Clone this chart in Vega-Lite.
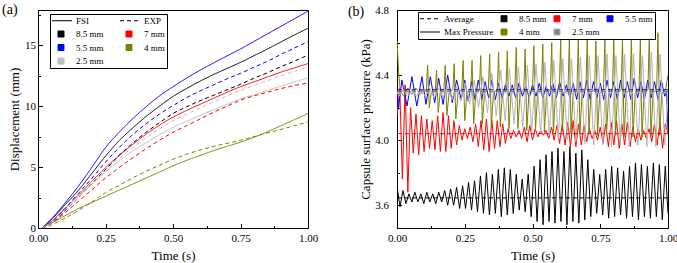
{
  "$schema": "https://vega.github.io/schema/vega-lite/v6.json",
  "background": "white",
  "autosize": {"type": "pad"},
  "padding": {"left": 1, "top": 2, "right": 3, "bottom": 0},
  "spacing": 28,
  "config": {
    "font": "Liberation Serif, Times New Roman, serif",
    "view": {"stroke": "#000", "strokeWidth": 1},
    "axis": {
      "grid": false,
      "domainColor": "#000",
      "tickColor": "#000",
      "labelColor": "#000",
      "titleColor": "#000",
      "labelFont": "Liberation Serif, Times New Roman, serif",
      "titleFont": "Liberation Serif, Times New Roman, serif",
      "labelFontSize": 11,
      "titleFontSize": 13,
      "titleFontWeight": "normal",
      "labelFlush": false,
      "labelOverlap": false
    },
    "legend": {
      "labelFont": "Liberation Serif, Times New Roman, serif",
      "labelFontSize": 9,
      "labelColor": "#000"
    }
  },
  "resolve": {
    "scale": {"color": "independent", "strokeDash": "independent", "x": "independent", "y": "independent"},
    "legend": {"color": "independent"}
  },
  "hconcat": [
    {
      "width": 270,
      "height": 218,
      "encoding": {
        "x": {
          "field": "t", "type": "quantitative",
          "scale": {"domain": [0, 1], "nice": false},
          "axis": {
            "title": "Time (s)",
            "values": [0, 0.125, 0.25, 0.375, 0.5, 0.625, 0.75, 0.875, 1],
            "labelExpr": "abs(datum.value*4-round(datum.value*4))>0.01 ? '' : format(datum.value,'.2f')",
            "tickSize": {"condition": {"test": "abs(datum.value*4-round(datum.value*4))>0.01", "value": -2.5}, "value": -4.5},
            "labelPadding": 9,
            "titlePadding": 4
          }
        },
        "y": {
          "field": "v", "type": "quantitative",
          "scale": {"domain": [0, 17.9], "nice": false},
          "axis": {
            "title": "Displacement (mm)",
            "values": [0, 2.5, 5, 7.5, 10, 12.5, 15, 17.5],
            "labelExpr": "abs(datum.value/5-round(datum.value/5))>0.01 ? '' : format(datum.value,'d')",
            "tickSize": {"condition": {"test": "abs(datum.value/5-round(datum.value/5))>0.01", "value": -2.5}, "value": -4.5},
            "labelPadding": 7,
            "titlePadding": 3
          }
        }
      },
      "layer": [
        {
          "data": {"values": [
            {"d":"8.5 mm","k":"FSI","t":0.015,"v":0},{"d":"8.5 mm","k":"FSI","t":0.05,"v":0.7},{"d":"8.5 mm","k":"FSI","t":0.1,"v":1.9},{"d":"8.5 mm","k":"FSI","t":0.15,"v":3.1},{"d":"8.5 mm","k":"FSI","t":0.2,"v":4.5},{"d":"8.5 mm","k":"FSI","t":0.25,"v":5.9},{"d":"8.5 mm","k":"FSI","t":0.3,"v":7.15},{"d":"8.5 mm","k":"FSI","t":0.35,"v":8.2},{"d":"8.5 mm","k":"FSI","t":0.4,"v":9.15},{"d":"8.5 mm","k":"FSI","t":0.45,"v":10.0},{"d":"8.5 mm","k":"FSI","t":0.5,"v":10.8},{"d":"8.5 mm","k":"FSI","t":0.55,"v":11.45},{"d":"8.5 mm","k":"FSI","t":0.6,"v":12.05},{"d":"8.5 mm","k":"FSI","t":0.65,"v":12.6},{"d":"8.5 mm","k":"FSI","t":0.7,"v":13.1},{"d":"8.5 mm","k":"FSI","t":0.75,"v":13.6},{"d":"8.5 mm","k":"FSI","t":0.8,"v":14.15},{"d":"8.5 mm","k":"FSI","t":0.85,"v":14.7},{"d":"8.5 mm","k":"FSI","t":0.9,"v":15.28},{"d":"8.5 mm","k":"FSI","t":0.95,"v":15.85},{"d":"8.5 mm","k":"FSI","t":1.0,"v":16.4},
            {"d":"7 mm","k":"FSI","t":0.015,"v":0},{"d":"7 mm","k":"FSI","t":0.05,"v":0.55},{"d":"7 mm","k":"FSI","t":0.1,"v":1.6},{"d":"7 mm","k":"FSI","t":0.15,"v":2.7},{"d":"7 mm","k":"FSI","t":0.2,"v":3.85},{"d":"7 mm","k":"FSI","t":0.25,"v":4.95},{"d":"7 mm","k":"FSI","t":0.3,"v":5.95},{"d":"7 mm","k":"FSI","t":0.35,"v":6.85},{"d":"7 mm","k":"FSI","t":0.4,"v":7.7},{"d":"7 mm","k":"FSI","t":0.45,"v":8.45},{"d":"7 mm","k":"FSI","t":0.5,"v":9.1},{"d":"7 mm","k":"FSI","t":0.55,"v":9.65},{"d":"7 mm","k":"FSI","t":0.6,"v":10.15},{"d":"7 mm","k":"FSI","t":0.65,"v":10.65},{"d":"7 mm","k":"FSI","t":0.7,"v":11.15},{"d":"7 mm","k":"FSI","t":0.75,"v":11.6},{"d":"7 mm","k":"FSI","t":0.8,"v":12.0},{"d":"7 mm","k":"FSI","t":0.85,"v":12.4},{"d":"7 mm","k":"FSI","t":0.9,"v":12.8},{"d":"7 mm","k":"FSI","t":0.95,"v":13.15},{"d":"7 mm","k":"FSI","t":1.0,"v":13.5},
            {"d":"5.5 mm","k":"FSI","t":0.015,"v":0},{"d":"5.5 mm","k":"FSI","t":0.05,"v":0.75},{"d":"5.5 mm","k":"FSI","t":0.1,"v":2.05},{"d":"5.5 mm","k":"FSI","t":0.15,"v":3.45},{"d":"5.5 mm","k":"FSI","t":0.2,"v":5.0},{"d":"5.5 mm","k":"FSI","t":0.25,"v":6.6},{"d":"5.5 mm","k":"FSI","t":0.3,"v":7.85},{"d":"5.5 mm","k":"FSI","t":0.35,"v":8.95},{"d":"5.5 mm","k":"FSI","t":0.4,"v":9.95},{"d":"5.5 mm","k":"FSI","t":0.45,"v":10.85},{"d":"5.5 mm","k":"FSI","t":0.5,"v":11.6},{"d":"5.5 mm","k":"FSI","t":0.55,"v":12.3},{"d":"5.5 mm","k":"FSI","t":0.6,"v":12.95},{"d":"5.5 mm","k":"FSI","t":0.65,"v":13.55},{"d":"5.5 mm","k":"FSI","t":0.7,"v":14.13},{"d":"5.5 mm","k":"FSI","t":0.75,"v":14.7},{"d":"5.5 mm","k":"FSI","t":0.8,"v":15.32},{"d":"5.5 mm","k":"FSI","t":0.85,"v":15.94},{"d":"5.5 mm","k":"FSI","t":0.9,"v":16.56},{"d":"5.5 mm","k":"FSI","t":0.95,"v":17.18},{"d":"5.5 mm","k":"FSI","t":1.0,"v":17.8},
            {"d":"4 mm","k":"FSI","t":0.015,"v":0},{"d":"4 mm","k":"FSI","t":0.05,"v":0.4},{"d":"4 mm","k":"FSI","t":0.1,"v":1.0},{"d":"4 mm","k":"FSI","t":0.15,"v":1.6},{"d":"4 mm","k":"FSI","t":0.2,"v":2.1},{"d":"4 mm","k":"FSI","t":0.25,"v":2.6},{"d":"4 mm","k":"FSI","t":0.3,"v":3.1},{"d":"4 mm","k":"FSI","t":0.35,"v":3.6},{"d":"4 mm","k":"FSI","t":0.4,"v":4.1},{"d":"4 mm","k":"FSI","t":0.45,"v":4.6},{"d":"4 mm","k":"FSI","t":0.5,"v":5.1},{"d":"4 mm","k":"FSI","t":0.55,"v":5.55},{"d":"4 mm","k":"FSI","t":0.6,"v":5.95},{"d":"4 mm","k":"FSI","t":0.65,"v":6.35},{"d":"4 mm","k":"FSI","t":0.7,"v":6.7},{"d":"4 mm","k":"FSI","t":0.75,"v":7.05},{"d":"4 mm","k":"FSI","t":0.8,"v":7.45},{"d":"4 mm","k":"FSI","t":0.85,"v":7.9},{"d":"4 mm","k":"FSI","t":0.9,"v":8.4},{"d":"4 mm","k":"FSI","t":0.95,"v":8.9},{"d":"4 mm","k":"FSI","t":1.0,"v":9.4},
            {"d":"2.5 mm","k":"FSI","t":0.015,"v":0},{"d":"2.5 mm","k":"FSI","t":0.05,"v":0.5},{"d":"2.5 mm","k":"FSI","t":0.1,"v":1.6},{"d":"2.5 mm","k":"FSI","t":0.15,"v":2.6},{"d":"2.5 mm","k":"FSI","t":0.2,"v":3.6},{"d":"2.5 mm","k":"FSI","t":0.25,"v":4.6},{"d":"2.5 mm","k":"FSI","t":0.3,"v":5.5},{"d":"2.5 mm","k":"FSI","t":0.35,"v":6.3},{"d":"2.5 mm","k":"FSI","t":0.4,"v":7.0},{"d":"2.5 mm","k":"FSI","t":0.45,"v":7.65},{"d":"2.5 mm","k":"FSI","t":0.5,"v":8.25},{"d":"2.5 mm","k":"FSI","t":0.55,"v":8.75},{"d":"2.5 mm","k":"FSI","t":0.6,"v":9.25},{"d":"2.5 mm","k":"FSI","t":0.65,"v":9.7},{"d":"2.5 mm","k":"FSI","t":0.7,"v":10.15},{"d":"2.5 mm","k":"FSI","t":0.75,"v":10.6},{"d":"2.5 mm","k":"FSI","t":0.8,"v":10.95},{"d":"2.5 mm","k":"FSI","t":0.85,"v":11.3},{"d":"2.5 mm","k":"FSI","t":0.9,"v":11.65},{"d":"2.5 mm","k":"FSI","t":0.95,"v":12.0},{"d":"2.5 mm","k":"FSI","t":1.0,"v":12.3},
            {"d":"8.5 mm","k":"EXP","t":0.015,"v":0},{"d":"8.5 mm","k":"EXP","t":0.05,"v":0.45},{"d":"8.5 mm","k":"EXP","t":0.1,"v":1.4},{"d":"8.5 mm","k":"EXP","t":0.15,"v":2.5},{"d":"8.5 mm","k":"EXP","t":0.2,"v":3.65},{"d":"8.5 mm","k":"EXP","t":0.25,"v":4.8},{"d":"8.5 mm","k":"EXP","t":0.3,"v":5.95},{"d":"8.5 mm","k":"EXP","t":0.35,"v":6.95},{"d":"8.5 mm","k":"EXP","t":0.4,"v":7.85},{"d":"8.5 mm","k":"EXP","t":0.45,"v":8.65},{"d":"8.5 mm","k":"EXP","t":0.5,"v":9.4},{"d":"8.5 mm","k":"EXP","t":0.55,"v":9.95},{"d":"8.5 mm","k":"EXP","t":0.6,"v":10.45},{"d":"8.5 mm","k":"EXP","t":0.65,"v":10.9},{"d":"8.5 mm","k":"EXP","t":0.7,"v":11.35},{"d":"8.5 mm","k":"EXP","t":0.75,"v":11.8},{"d":"8.5 mm","k":"EXP","t":0.8,"v":12.3},{"d":"8.5 mm","k":"EXP","t":0.85,"v":12.75},{"d":"8.5 mm","k":"EXP","t":0.9,"v":13.25},{"d":"8.5 mm","k":"EXP","t":0.95,"v":13.7},{"d":"8.5 mm","k":"EXP","t":1.0,"v":14.2},
            {"d":"7 mm","k":"EXP","t":0.015,"v":0},{"d":"7 mm","k":"EXP","t":0.05,"v":0.4},{"d":"7 mm","k":"EXP","t":0.1,"v":1.25},{"d":"7 mm","k":"EXP","t":0.15,"v":2.2},{"d":"7 mm","k":"EXP","t":0.2,"v":3.15},{"d":"7 mm","k":"EXP","t":0.25,"v":4.1},{"d":"7 mm","k":"EXP","t":0.3,"v":4.95},{"d":"7 mm","k":"EXP","t":0.35,"v":5.75},{"d":"7 mm","k":"EXP","t":0.4,"v":6.5},{"d":"7 mm","k":"EXP","t":0.45,"v":7.2},{"d":"7 mm","k":"EXP","t":0.5,"v":7.85},{"d":"7 mm","k":"EXP","t":0.55,"v":8.4},{"d":"7 mm","k":"EXP","t":0.6,"v":8.95},{"d":"7 mm","k":"EXP","t":0.65,"v":9.5},{"d":"7 mm","k":"EXP","t":0.7,"v":10.0},{"d":"7 mm","k":"EXP","t":0.75,"v":10.5},{"d":"7 mm","k":"EXP","t":0.8,"v":10.85},{"d":"7 mm","k":"EXP","t":0.85,"v":11.15},{"d":"7 mm","k":"EXP","t":0.9,"v":11.45},{"d":"7 mm","k":"EXP","t":0.95,"v":11.7},{"d":"7 mm","k":"EXP","t":1.0,"v":11.9},
            {"d":"5.5 mm","k":"EXP","t":0.015,"v":0},{"d":"5.5 mm","k":"EXP","t":0.05,"v":0.5},{"d":"5.5 mm","k":"EXP","t":0.1,"v":1.6},{"d":"5.5 mm","k":"EXP","t":0.15,"v":2.85},{"d":"5.5 mm","k":"EXP","t":0.2,"v":4.1},{"d":"5.5 mm","k":"EXP","t":0.25,"v":5.4},{"d":"5.5 mm","k":"EXP","t":0.3,"v":6.6},{"d":"5.5 mm","k":"EXP","t":0.35,"v":7.65},{"d":"5.5 mm","k":"EXP","t":0.4,"v":8.55},{"d":"5.5 mm","k":"EXP","t":0.45,"v":9.35},{"d":"5.5 mm","k":"EXP","t":0.5,"v":10.05},{"d":"5.5 mm","k":"EXP","t":0.55,"v":10.7},{"d":"5.5 mm","k":"EXP","t":0.6,"v":11.25},{"d":"5.5 mm","k":"EXP","t":0.65,"v":11.75},{"d":"5.5 mm","k":"EXP","t":0.7,"v":12.25},{"d":"5.5 mm","k":"EXP","t":0.75,"v":12.7},{"d":"5.5 mm","k":"EXP","t":0.8,"v":13.2},{"d":"5.5 mm","k":"EXP","t":0.85,"v":13.7},{"d":"5.5 mm","k":"EXP","t":0.9,"v":14.25},{"d":"5.5 mm","k":"EXP","t":0.95,"v":14.78},{"d":"5.5 mm","k":"EXP","t":1.0,"v":15.3},
            {"d":"4 mm","k":"EXP","t":0.015,"v":0},{"d":"4 mm","k":"EXP","t":0.05,"v":0.25},{"d":"4 mm","k":"EXP","t":0.1,"v":0.8},{"d":"4 mm","k":"EXP","t":0.15,"v":1.45},{"d":"4 mm","k":"EXP","t":0.2,"v":2.15},{"d":"4 mm","k":"EXP","t":0.25,"v":2.9},{"d":"4 mm","k":"EXP","t":0.3,"v":3.5},{"d":"4 mm","k":"EXP","t":0.35,"v":4.1},{"d":"4 mm","k":"EXP","t":0.4,"v":4.65},{"d":"4 mm","k":"EXP","t":0.45,"v":5.15},{"d":"4 mm","k":"EXP","t":0.5,"v":5.65},{"d":"4 mm","k":"EXP","t":0.55,"v":6.05},{"d":"4 mm","k":"EXP","t":0.6,"v":6.4},{"d":"4 mm","k":"EXP","t":0.65,"v":6.7},{"d":"4 mm","k":"EXP","t":0.7,"v":6.95},{"d":"4 mm","k":"EXP","t":0.75,"v":7.2},{"d":"4 mm","k":"EXP","t":0.8,"v":7.5},{"d":"4 mm","k":"EXP","t":0.85,"v":7.8},{"d":"4 mm","k":"EXP","t":0.9,"v":8.1},{"d":"4 mm","k":"EXP","t":0.95,"v":8.4},{"d":"4 mm","k":"EXP","t":1.0,"v":8.7},
            {"d":"2.5 mm","k":"EXP","t":0.015,"v":0},{"d":"2.5 mm","k":"EXP","t":0.05,"v":0.45},{"d":"2.5 mm","k":"EXP","t":0.1,"v":1.45},{"d":"2.5 mm","k":"EXP","t":0.15,"v":2.5},{"d":"2.5 mm","k":"EXP","t":0.2,"v":3.6},{"d":"2.5 mm","k":"EXP","t":0.25,"v":4.7},{"d":"2.5 mm","k":"EXP","t":0.3,"v":5.7},{"d":"2.5 mm","k":"EXP","t":0.35,"v":6.6},{"d":"2.5 mm","k":"EXP","t":0.4,"v":7.4},{"d":"2.5 mm","k":"EXP","t":0.45,"v":8.15},{"d":"2.5 mm","k":"EXP","t":0.5,"v":8.8},{"d":"2.5 mm","k":"EXP","t":0.55,"v":9.35},{"d":"2.5 mm","k":"EXP","t":0.6,"v":9.85},{"d":"2.5 mm","k":"EXP","t":0.65,"v":10.35},{"d":"2.5 mm","k":"EXP","t":0.7,"v":10.85},{"d":"2.5 mm","k":"EXP","t":0.75,"v":11.3},{"d":"2.5 mm","k":"EXP","t":0.8,"v":11.7},{"d":"2.5 mm","k":"EXP","t":0.85,"v":12.1},{"d":"2.5 mm","k":"EXP","t":0.9,"v":12.5},{"d":"2.5 mm","k":"EXP","t":0.95,"v":12.85},{"d":"2.5 mm","k":"EXP","t":1.0,"v":13.2}
          ]},
          "mark": {"type": "line", "strokeWidth": 1, "interpolate": "monotone", "clip": true},
          "encoding": {
            "color": {
              "field": "d", "type": "nominal",
              "scale": {
                "domain": ["FSI", "EXP", "8.5 mm", "7 mm", "5.5 mm", "4 mm", "2.5 mm"],
                "range": ["#000000", "#000000", "#000000", "#ff0000", "#0000ff", "#808000", "#c0c0c0"]
              },
              "legend": {
                "title": null,
                "orient": "none",
                "legendX": 12,
                "legendY": 4,
                "direction": "horizontal",
                "columns": 2,
                "columnPadding": 14,
                "rowPadding": 2.5,
                "padding": 2,
                "strokeColor": "#000",
                "fillColor": "#fff",
                "symbolSize": 36,
                "labelOffset": 15,
                "encode": {
                  "symbols": {
                    "update": {
                      "shape": {"signal": "datum.value=='FSI'||datum.value=='EXP' ? 'stroke' : 'square'"},
                      "size": {"signal": "datum.value=='FSI'||datum.value=='EXP' ? 400 : 36"},
                      "x": {"signal": "datum.value=='FSI'||datum.value=='EXP' ? 10 : 9"},
                      "fill": {"signal": "datum.value=='8.5 mm' ? '#000000' : datum.value=='7 mm' ? '#ff0000' : datum.value=='5.5 mm' ? '#0000ff' : datum.value=='4 mm' ? '#808000' : datum.value=='2.5 mm' ? '#c0c0c0' : 'transparent'"},
                      "stroke": {"signal": "datum.value=='FSI'||datum.value=='EXP' ? '#000000' : 'transparent'"},
                      "strokeDash": {"signal": "datum.value=='EXP' ? [4,3] : [1,0]"},
                      "strokeWidth": {"value": 1},
                      "opacity": {"value": 1}
                    }
                  }
                }
              }
            },
            "strokeDash": {
              "field": "k", "type": "nominal",
              "scale": {"domain": ["FSI", "EXP"], "range": [[1, 0], [4, 3]]},
              "legend": null
            }
          }
        },
        {
          "data": {"values": [{"t": -0.133, "v": 17.94, "label": "(a)"}]},
          "mark": {"type": "text", "align": "left", "baseline": "middle", "fontSize": 14, "font": "Liberation Serif, Times New Roman, serif", "color": "#000", "clip": false},
          "encoding": {"text": {"field": "label"}}
        }
      ]
    },
    {
      "width": 271,
      "height": 218,
      "encoding": {
        "x": {
          "field": "t", "type": "quantitative",
          "scale": {"domain": [0, 1], "nice": false},
          "axis": {
            "title": "Time (s)",
            "values": [0, 0.125, 0.25, 0.375, 0.5, 0.625, 0.75, 0.875, 1],
            "labelExpr": "abs(datum.value*4-round(datum.value*4))>0.01 ? '' : format(datum.value,'.2f')",
            "tickSize": {"condition": {"test": "abs(datum.value*4-round(datum.value*4))>0.01", "value": -2.5}, "value": -4.5},
            "labelPadding": 9,
            "titlePadding": 4
          }
        },
        "y": {
          "field": "p", "type": "quantitative",
          "scale": {"domain": [3.46, 4.8], "nice": false},
          "axis": {
            "title": "Capsule surface pressure (kPa)",
            "values": [3.6, 3.8, 4.0, 4.2, 4.4, 4.6, 4.8],
            "labelExpr": "abs(datum.value/0.4-round(datum.value/0.4))>0.01 ? '' : format(datum.value,'.1f')",
            "tickSize": {"condition": {"test": "abs(datum.value/0.4-round(datum.value/0.4))>0.01", "value": -2.5}, "value": -4.5},
            "labelPadding": 13,
            "titlePadding": 2
          }
        }
      },
      "layer": [
        {
          "data": {"values": [
            {"d":"8.5 mm","t":0,"p":3.72},{"d":"8.5 mm","t":0.011,"p":3.59},{"d":"8.5 mm","t":0.022,"p":3.69},{"d":"8.5 mm","t":0.033,"p":3.61},{"d":"8.5 mm","t":0.044,"p":3.67},{"d":"8.5 mm","t":0.055,"p":3.62},{"d":"8.5 mm","t":0.066,"p":3.68},{"d":"8.5 mm","t":0.077,"p":3.62},{"d":"8.5 mm","t":0.088,"p":3.67},{"d":"8.5 mm","t":0.099,"p":3.61},{"d":"8.5 mm","t":0.11,"p":3.68},{"d":"8.5 mm","t":0.121,"p":3.62},{"d":"8.5 mm","t":0.132,"p":3.67},{"d":"8.5 mm","t":0.143,"p":3.61},{"d":"8.5 mm","t":0.154,"p":3.68},{"d":"8.5 mm","t":0.165,"p":3.62},{"d":"8.5 mm","t":0.176,"p":3.69},{"d":"8.5 mm","t":0.187,"p":3.6},{"d":"8.5 mm","t":0.198,"p":3.7},{"d":"8.5 mm","t":0.209,"p":3.6},{"d":"8.5 mm","t":0.22,"p":3.71},{"d":"8.5 mm","t":0.231,"p":3.58},{"d":"8.5 mm","t":0.242,"p":3.72},{"d":"8.5 mm","t":0.253,"p":3.58},{"d":"8.5 mm","t":0.264,"p":3.74},{"d":"8.5 mm","t":0.275,"p":3.57},{"d":"8.5 mm","t":0.286,"p":3.75},{"d":"8.5 mm","t":0.297,"p":3.56},{"d":"8.5 mm","t":0.308,"p":3.78},{"d":"8.5 mm","t":0.319,"p":3.55},{"d":"8.5 mm","t":0.33,"p":3.8},{"d":"8.5 mm","t":0.341,"p":3.54},{"d":"8.5 mm","t":0.352,"p":3.79},{"d":"8.5 mm","t":0.363,"p":3.55},{"d":"8.5 mm","t":0.374,"p":3.82},{"d":"8.5 mm","t":0.385,"p":3.53},{"d":"8.5 mm","t":0.396,"p":3.83},{"d":"8.5 mm","t":0.407,"p":3.54},{"d":"8.5 mm","t":0.418,"p":3.82},{"d":"8.5 mm","t":0.429,"p":3.55},{"d":"8.5 mm","t":0.44,"p":3.79},{"d":"8.5 mm","t":0.451,"p":3.57},{"d":"8.5 mm","t":0.462,"p":3.76},{"d":"8.5 mm","t":0.473,"p":3.56},{"d":"8.5 mm","t":0.484,"p":3.79},{"d":"8.5 mm","t":0.495,"p":3.53},{"d":"8.5 mm","t":0.506,"p":3.84},{"d":"8.5 mm","t":0.517,"p":3.5},{"d":"8.5 mm","t":0.528,"p":3.88},{"d":"8.5 mm","t":0.539,"p":3.48},{"d":"8.5 mm","t":0.55,"p":3.91},{"d":"8.5 mm","t":0.561,"p":3.5},{"d":"8.5 mm","t":0.572,"p":3.93},{"d":"8.5 mm","t":0.583,"p":3.49},{"d":"8.5 mm","t":0.594,"p":3.95},{"d":"8.5 mm","t":0.605,"p":3.5},{"d":"8.5 mm","t":0.616,"p":3.93},{"d":"8.5 mm","t":0.627,"p":3.48},{"d":"8.5 mm","t":0.638,"p":3.96},{"d":"8.5 mm","t":0.649,"p":3.5},{"d":"8.5 mm","t":0.66,"p":3.92},{"d":"8.5 mm","t":0.671,"p":3.49},{"d":"8.5 mm","t":0.682,"p":3.94},{"d":"8.5 mm","t":0.693,"p":3.51},{"d":"8.5 mm","t":0.704,"p":3.88},{"d":"8.5 mm","t":0.715,"p":3.53},{"d":"8.5 mm","t":0.726,"p":3.82},{"d":"8.5 mm","t":0.737,"p":3.55},{"d":"8.5 mm","t":0.748,"p":3.79},{"d":"8.5 mm","t":0.759,"p":3.54},{"d":"8.5 mm","t":0.77,"p":3.82},{"d":"8.5 mm","t":0.781,"p":3.52},{"d":"8.5 mm","t":0.792,"p":3.84},{"d":"8.5 mm","t":0.803,"p":3.53},{"d":"8.5 mm","t":0.814,"p":3.83},{"d":"8.5 mm","t":0.825,"p":3.54},{"d":"8.5 mm","t":0.836,"p":3.81},{"d":"8.5 mm","t":0.847,"p":3.52},{"d":"8.5 mm","t":0.858,"p":3.84},{"d":"8.5 mm","t":0.869,"p":3.53},{"d":"8.5 mm","t":0.88,"p":3.86},{"d":"8.5 mm","t":0.891,"p":3.51},{"d":"8.5 mm","t":0.902,"p":3.85},{"d":"8.5 mm","t":0.913,"p":3.53},{"d":"8.5 mm","t":0.924,"p":3.84},{"d":"8.5 mm","t":0.935,"p":3.52},{"d":"8.5 mm","t":0.946,"p":3.86},{"d":"8.5 mm","t":0.957,"p":3.53},{"d":"8.5 mm","t":0.968,"p":3.85},{"d":"8.5 mm","t":0.979,"p":3.51},{"d":"8.5 mm","t":0.99,"p":3.84},{"d":"8.5 mm","t":1.0,"p":3.55},
            {"d":"7 mm","t":0,"p":4.15},{"d":"7 mm","t":0.01,"p":4.32},{"d":"7 mm","t":0.02,"p":3.76},{"d":"7 mm","t":0.03,"p":4.34},{"d":"7 mm","t":0.04,"p":3.68},{"d":"7 mm","t":0.05,"p":4.2},{"d":"7 mm","t":0.06,"p":3.92},{"d":"7 mm","t":0.07,"p":4.16},{"d":"7 mm","t":0.08,"p":3.91},{"d":"7 mm","t":0.09,"p":4.15},{"d":"7 mm","t":0.1,"p":3.93},{"d":"7 mm","t":0.11,"p":4.13},{"d":"7 mm","t":0.12,"p":3.95},{"d":"7 mm","t":0.13,"p":4.12},{"d":"7 mm","t":0.14,"p":3.94},{"d":"7 mm","t":0.15,"p":4.15},{"d":"7 mm","t":0.16,"p":3.93},{"d":"7 mm","t":0.17,"p":4.17},{"d":"7 mm","t":0.18,"p":3.93},{"d":"7 mm","t":0.19,"p":4.15},{"d":"7 mm","t":0.2,"p":3.95},{"d":"7 mm","t":0.21,"p":4.12},{"d":"7 mm","t":0.22,"p":3.97},{"d":"7 mm","t":0.23,"p":4.09},{"d":"7 mm","t":0.24,"p":4.0},{"d":"7 mm","t":0.25,"p":4.07},{"d":"7 mm","t":0.26,"p":4.01},{"d":"7 mm","t":0.27,"p":4.08},{"d":"7 mm","t":0.28,"p":3.99},{"d":"7 mm","t":0.29,"p":4.1},{"d":"7 mm","t":0.3,"p":3.96},{"d":"7 mm","t":0.31,"p":4.12},{"d":"7 mm","t":0.32,"p":3.94},{"d":"7 mm","t":0.33,"p":4.13},{"d":"7 mm","t":0.34,"p":3.93},{"d":"7 mm","t":0.35,"p":4.12},{"d":"7 mm","t":0.36,"p":3.95},{"d":"7 mm","t":0.37,"p":4.12},{"d":"7 mm","t":0.38,"p":3.96},{"d":"7 mm","t":0.39,"p":4.1},{"d":"7 mm","t":0.4,"p":3.98},{"d":"7 mm","t":0.41,"p":4.07},{"d":"7 mm","t":0.42,"p":4.01},{"d":"7 mm","t":0.43,"p":4.06},{"d":"7 mm","t":0.44,"p":4.02},{"d":"7 mm","t":0.45,"p":4.06},{"d":"7 mm","t":0.46,"p":4.01},{"d":"7 mm","t":0.47,"p":4.08},{"d":"7 mm","t":0.48,"p":3.99},{"d":"7 mm","t":0.49,"p":4.09},{"d":"7 mm","t":0.5,"p":4.0},{"d":"7 mm","t":0.51,"p":4.07},{"d":"7 mm","t":0.52,"p":4.02},{"d":"7 mm","t":0.53,"p":4.06},{"d":"7 mm","t":0.54,"p":4.03},{"d":"7 mm","t":0.55,"p":4.06},{"d":"7 mm","t":0.56,"p":4.01},{"d":"7 mm","t":0.57,"p":4.08},{"d":"7 mm","t":0.58,"p":4.0},{"d":"7 mm","t":0.59,"p":4.09},{"d":"7 mm","t":0.6,"p":3.98},{"d":"7 mm","t":0.61,"p":4.1},{"d":"7 mm","t":0.62,"p":3.97},{"d":"7 mm","t":0.63,"p":4.11},{"d":"7 mm","t":0.64,"p":3.96},{"d":"7 mm","t":0.65,"p":4.12},{"d":"7 mm","t":0.66,"p":3.96},{"d":"7 mm","t":0.67,"p":4.1},{"d":"7 mm","t":0.68,"p":3.97},{"d":"7 mm","t":0.69,"p":4.09},{"d":"7 mm","t":0.7,"p":3.99},{"d":"7 mm","t":0.71,"p":4.07},{"d":"7 mm","t":0.72,"p":4.01},{"d":"7 mm","t":0.73,"p":4.06},{"d":"7 mm","t":0.74,"p":4.0},{"d":"7 mm","t":0.75,"p":4.08},{"d":"7 mm","t":0.76,"p":3.98},{"d":"7 mm","t":0.77,"p":4.1},{"d":"7 mm","t":0.78,"p":3.96},{"d":"7 mm","t":0.79,"p":4.11},{"d":"7 mm","t":0.8,"p":3.97},{"d":"7 mm","t":0.81,"p":4.12},{"d":"7 mm","t":0.82,"p":3.95},{"d":"7 mm","t":0.83,"p":4.1},{"d":"7 mm","t":0.84,"p":3.97},{"d":"7 mm","t":0.85,"p":4.11},{"d":"7 mm","t":0.86,"p":3.96},{"d":"7 mm","t":0.87,"p":4.08},{"d":"7 mm","t":0.88,"p":3.99},{"d":"7 mm","t":0.89,"p":4.07},{"d":"7 mm","t":0.9,"p":4.0},{"d":"7 mm","t":0.91,"p":4.06},{"d":"7 mm","t":0.92,"p":4.01},{"d":"7 mm","t":0.93,"p":4.07},{"d":"7 mm","t":0.94,"p":3.99},{"d":"7 mm","t":0.95,"p":4.1},{"d":"7 mm","t":0.96,"p":3.97},{"d":"7 mm","t":0.97,"p":4.11},{"d":"7 mm","t":0.98,"p":3.95},{"d":"7 mm","t":0.99,"p":4.1},{"d":"7 mm","t":1.0,"p":4.04},
            {"d":"5.5 mm","t":0,"p":4.28},{"d":"5.5 mm","t":0.005,"p":4.19},{"d":"5.5 mm","t":0.018,"p":4.37},{"d":"5.5 mm","t":0.037,"p":4.21},{"d":"5.5 mm","t":0.055,"p":4.39},{"d":"5.5 mm","t":0.073,"p":4.21},{"d":"5.5 mm","t":0.092,"p":4.39},{"d":"5.5 mm","t":0.107,"p":4.22},{"d":"5.5 mm","t":0.123,"p":4.39},{"d":"5.5 mm","t":0.139,"p":4.23},{"d":"5.5 mm","t":0.154,"p":4.38},{"d":"5.5 mm","t":0.17,"p":4.22},{"d":"5.5 mm","t":0.187,"p":4.4},{"d":"5.5 mm","t":0.204,"p":4.23},{"d":"5.5 mm","t":0.22,"p":4.37},{"d":"5.5 mm","t":0.237,"p":4.25},{"d":"5.5 mm","t":0.25,"p":4.37},{"d":"5.5 mm","t":0.263,"p":4.24},{"d":"5.5 mm","t":0.275,"p":4.36},{"d":"5.5 mm","t":0.288,"p":4.25},{"d":"5.5 mm","t":0.3,"p":4.37},{"d":"5.5 mm","t":0.313,"p":4.25},{"d":"5.5 mm","t":0.325,"p":4.36},{"d":"5.5 mm","t":0.338,"p":4.26},{"d":"5.5 mm","t":0.35,"p":4.37},{"d":"5.5 mm","t":0.363,"p":4.25},{"d":"5.5 mm","t":0.375,"p":4.35},{"d":"5.5 mm","t":0.388,"p":4.26},{"d":"5.5 mm","t":0.4,"p":4.34},{"d":"5.5 mm","t":0.413,"p":4.27},{"d":"5.5 mm","t":0.425,"p":4.34},{"d":"5.5 mm","t":0.438,"p":4.26},{"d":"5.5 mm","t":0.45,"p":4.35},{"d":"5.5 mm","t":0.463,"p":4.27},{"d":"5.5 mm","t":0.475,"p":4.33},{"d":"5.5 mm","t":0.488,"p":4.26},{"d":"5.5 mm","t":0.5,"p":4.34},{"d":"5.5 mm","t":0.513,"p":4.27},{"d":"5.5 mm","t":0.525,"p":4.35},{"d":"5.5 mm","t":0.538,"p":4.26},{"d":"5.5 mm","t":0.55,"p":4.33},{"d":"5.5 mm","t":0.563,"p":4.27},{"d":"5.5 mm","t":0.575,"p":4.35},{"d":"5.5 mm","t":0.588,"p":4.26},{"d":"5.5 mm","t":0.6,"p":4.36},{"d":"5.5 mm","t":0.613,"p":4.27},{"d":"5.5 mm","t":0.625,"p":4.34},{"d":"5.5 mm","t":0.638,"p":4.26},{"d":"5.5 mm","t":0.65,"p":4.35},{"d":"5.5 mm","t":0.663,"p":4.25},{"d":"5.5 mm","t":0.675,"p":4.36},{"d":"5.5 mm","t":0.688,"p":4.26},{"d":"5.5 mm","t":0.7,"p":4.37},{"d":"5.5 mm","t":0.713,"p":4.25},{"d":"5.5 mm","t":0.725,"p":4.36},{"d":"5.5 mm","t":0.738,"p":4.26},{"d":"5.5 mm","t":0.75,"p":4.35},{"d":"5.5 mm","t":0.763,"p":4.25},{"d":"5.5 mm","t":0.775,"p":4.37},{"d":"5.5 mm","t":0.788,"p":4.26},{"d":"5.5 mm","t":0.8,"p":4.36},{"d":"5.5 mm","t":0.813,"p":4.25},{"d":"5.5 mm","t":0.825,"p":4.37},{"d":"5.5 mm","t":0.838,"p":4.26},{"d":"5.5 mm","t":0.85,"p":4.36},{"d":"5.5 mm","t":0.863,"p":4.25},{"d":"5.5 mm","t":0.875,"p":4.38},{"d":"5.5 mm","t":0.888,"p":4.26},{"d":"5.5 mm","t":0.9,"p":4.36},{"d":"5.5 mm","t":0.913,"p":4.25},{"d":"5.5 mm","t":0.925,"p":4.37},{"d":"5.5 mm","t":0.938,"p":4.26},{"d":"5.5 mm","t":0.95,"p":4.36},{"d":"5.5 mm","t":0.963,"p":4.25},{"d":"5.5 mm","t":0.975,"p":4.37},{"d":"5.5 mm","t":0.988,"p":4.27},{"d":"5.5 mm","t":0.995,"p":4.3},{"d":"5.5 mm","t":1.0,"p":4.06},
            {"d":"4 mm","t":0,"p":4.61},{"d":"4 mm","t":0.006,"p":4.42},{"d":"4 mm","t":0.012,"p":4.3},{"d":"4 mm","t":0.025,"p":4.27},{"d":"4 mm","t":0.04,"p":4.32},{"d":"4 mm","t":0.055,"p":4.28},{"d":"4 mm","t":0.07,"p":4.32},{"d":"4 mm","t":0.085,"p":4.28},{"d":"4 mm","t":0.1,"p":4.31},
            {"d":"4 mm","t":0.108,"p":4.3},{"d":"4 mm","t":0.113,"p":4.46},{"d":"4 mm","t":0.119,"p":4.2},{"d":"4 mm","t":0.127,"p":4.3},
            {"d":"4 mm","t":0.141,"p":4.3},{"d":"4 mm","t":0.146,"p":4.43},{"d":"4 mm","t":0.152,"p":4.17},{"d":"4 mm","t":0.16,"p":4.3},
            {"d":"4 mm","t":0.173,"p":4.31},{"d":"4 mm","t":0.178,"p":4.46},{"d":"4 mm","t":0.184,"p":4.15},{"d":"4 mm","t":0.192,"p":4.29},
            {"d":"4 mm","t":0.206,"p":4.31},{"d":"4 mm","t":0.211,"p":4.47},{"d":"4 mm","t":0.217,"p":4.13},{"d":"4 mm","t":0.225,"p":4.29},
            {"d":"4 mm","t":0.239,"p":4.31},{"d":"4 mm","t":0.244,"p":4.49},{"d":"4 mm","t":0.25,"p":4.12},{"d":"4 mm","t":0.258,"p":4.29},
            {"d":"4 mm","t":0.272,"p":4.31},{"d":"4 mm","t":0.277,"p":4.49},{"d":"4 mm","t":0.283,"p":4.1},{"d":"4 mm","t":0.291,"p":4.29},
            {"d":"4 mm","t":0.304,"p":4.31},{"d":"4 mm","t":0.309,"p":4.52},{"d":"4 mm","t":0.315,"p":4.1},{"d":"4 mm","t":0.323,"p":4.29},
            {"d":"4 mm","t":0.337,"p":4.31},{"d":"4 mm","t":0.342,"p":4.53},{"d":"4 mm","t":0.348,"p":4.08},{"d":"4 mm","t":0.356,"p":4.29},
            {"d":"4 mm","t":0.37,"p":4.31},{"d":"4 mm","t":0.375,"p":4.54},{"d":"4 mm","t":0.381,"p":4.08},{"d":"4 mm","t":0.389,"p":4.29},
            {"d":"4 mm","t":0.402,"p":4.31},{"d":"4 mm","t":0.407,"p":4.55},{"d":"4 mm","t":0.413,"p":4.07},{"d":"4 mm","t":0.421,"p":4.29},
            {"d":"4 mm","t":0.435,"p":4.31},{"d":"4 mm","t":0.44,"p":4.57},{"d":"4 mm","t":0.446,"p":4.07},{"d":"4 mm","t":0.454,"p":4.29},
            {"d":"4 mm","t":0.468,"p":4.31},{"d":"4 mm","t":0.473,"p":4.56},{"d":"4 mm","t":0.479,"p":4.06},{"d":"4 mm","t":0.487,"p":4.29},
            {"d":"4 mm","t":0.5,"p":4.31},{"d":"4 mm","t":0.505,"p":4.58},{"d":"4 mm","t":0.511,"p":4.06},{"d":"4 mm","t":0.519,"p":4.29},
            {"d":"4 mm","t":0.533,"p":4.31},{"d":"4 mm","t":0.538,"p":4.59},{"d":"4 mm","t":0.544,"p":4.05},{"d":"4 mm","t":0.552,"p":4.29},
            {"d":"4 mm","t":0.566,"p":4.31},{"d":"4 mm","t":0.571,"p":4.6},{"d":"4 mm","t":0.577,"p":4.05},{"d":"4 mm","t":0.585,"p":4.29},
            {"d":"4 mm","t":0.599,"p":4.31},{"d":"4 mm","t":0.604,"p":4.62},{"d":"4 mm","t":0.61,"p":4.05},{"d":"4 mm","t":0.618,"p":4.29},
            {"d":"4 mm","t":0.631,"p":4.31},{"d":"4 mm","t":0.636,"p":4.62},{"d":"4 mm","t":0.642,"p":4.04},{"d":"4 mm","t":0.65,"p":4.29},
            {"d":"4 mm","t":0.664,"p":4.31},{"d":"4 mm","t":0.669,"p":4.62},{"d":"4 mm","t":0.675,"p":4.04},{"d":"4 mm","t":0.683,"p":4.29},
            {"d":"4 mm","t":0.697,"p":4.31},{"d":"4 mm","t":0.702,"p":4.62},{"d":"4 mm","t":0.708,"p":4.04},{"d":"4 mm","t":0.716,"p":4.29},
            {"d":"4 mm","t":0.729,"p":4.31},{"d":"4 mm","t":0.734,"p":4.61},{"d":"4 mm","t":0.74,"p":4.03},{"d":"4 mm","t":0.748,"p":4.29},
            {"d":"4 mm","t":0.762,"p":4.31},{"d":"4 mm","t":0.767,"p":4.62},{"d":"4 mm","t":0.773,"p":4.03},{"d":"4 mm","t":0.781,"p":4.29},
            {"d":"4 mm","t":0.795,"p":4.31},{"d":"4 mm","t":0.8,"p":4.62},{"d":"4 mm","t":0.806,"p":4.03},{"d":"4 mm","t":0.814,"p":4.29},
            {"d":"4 mm","t":0.827,"p":4.31},{"d":"4 mm","t":0.832,"p":4.62},{"d":"4 mm","t":0.838,"p":4.02},{"d":"4 mm","t":0.846,"p":4.29},
            {"d":"4 mm","t":0.86,"p":4.31},{"d":"4 mm","t":0.865,"p":4.63},{"d":"4 mm","t":0.871,"p":4.02},{"d":"4 mm","t":0.879,"p":4.29},
            {"d":"4 mm","t":0.893,"p":4.31},{"d":"4 mm","t":0.898,"p":4.62},{"d":"4 mm","t":0.904,"p":4.02},{"d":"4 mm","t":0.912,"p":4.29},
            {"d":"4 mm","t":0.926,"p":4.31},{"d":"4 mm","t":0.931,"p":4.65},{"d":"4 mm","t":0.937,"p":4.02},{"d":"4 mm","t":0.945,"p":4.29},
            {"d":"4 mm","t":0.958,"p":4.31},{"d":"4 mm","t":0.963,"p":4.66},{"d":"4 mm","t":0.969,"p":4.03},{"d":"4 mm","t":0.977,"p":4.29},
            {"d":"4 mm","t":0.991,"p":4.31},{"d":"4 mm","t":1.0,"p":4.4},
            {"d":"2.5 mm","t":0,"p":4.3},{"d":"2.5 mm","t":0.007,"p":4.27},{"d":"2.5 mm","t":0.023,"p":4.31},{"d":"2.5 mm","t":0.039,"p":4.27},{"d":"2.5 mm","t":0.056,"p":4.31},{"d":"2.5 mm","t":0.072,"p":4.27},{"d":"2.5 mm","t":0.088,"p":4.31},{"d":"2.5 mm","t":0.104,"p":4.27},{"d":"2.5 mm","t":0.121,"p":4.32},{"d":"2.5 mm","t":0.137,"p":4.26},{"d":"2.5 mm","t":0.154,"p":4.32},{"d":"2.5 mm","t":0.17,"p":4.26},{"d":"2.5 mm","t":0.186,"p":4.33},{"d":"2.5 mm","t":0.203,"p":4.25},{"d":"2.5 mm","t":0.219,"p":4.33},{"d":"2.5 mm","t":0.235,"p":4.24},{"d":"2.5 mm","t":0.252,"p":4.35},{"d":"2.5 mm","t":0.268,"p":4.22},{"d":"2.5 mm","t":0.285,"p":4.37},{"d":"2.5 mm","t":0.301,"p":4.2},{"d":"2.5 mm","t":0.317,"p":4.39},{"d":"2.5 mm","t":0.334,"p":4.17},{"d":"2.5 mm","t":0.35,"p":4.41},{"d":"2.5 mm","t":0.366,"p":4.15},{"d":"2.5 mm","t":0.383,"p":4.43},{"d":"2.5 mm","t":0.399,"p":4.12},{"d":"2.5 mm","t":0.415,"p":4.44},{"d":"2.5 mm","t":0.432,"p":4.1},{"d":"2.5 mm","t":0.448,"p":4.45},{"d":"2.5 mm","t":0.464,"p":4.08},{"d":"2.5 mm","t":0.481,"p":4.46},{"d":"2.5 mm","t":0.497,"p":4.06},{"d":"2.5 mm","t":0.513,"p":4.47},{"d":"2.5 mm","t":0.53,"p":4.04},{"d":"2.5 mm","t":0.546,"p":4.48},{"d":"2.5 mm","t":0.562,"p":4.03},{"d":"2.5 mm","t":0.579,"p":4.49},{"d":"2.5 mm","t":0.595,"p":4.01},{"d":"2.5 mm","t":0.612,"p":4.5},{"d":"2.5 mm","t":0.628,"p":4.0},{"d":"2.5 mm","t":0.644,"p":4.5},{"d":"2.5 mm","t":0.66,"p":3.99},{"d":"2.5 mm","t":0.677,"p":4.51},{"d":"2.5 mm","t":0.693,"p":3.98},{"d":"2.5 mm","t":0.71,"p":4.52},{"d":"2.5 mm","t":0.726,"p":3.97},{"d":"2.5 mm","t":0.742,"p":4.52},{"d":"2.5 mm","t":0.759,"p":3.97},{"d":"2.5 mm","t":0.775,"p":4.53},{"d":"2.5 mm","t":0.791,"p":3.96},{"d":"2.5 mm","t":0.808,"p":4.52},{"d":"2.5 mm","t":0.824,"p":3.97},{"d":"2.5 mm","t":0.84,"p":4.53},{"d":"2.5 mm","t":0.857,"p":3.96},{"d":"2.5 mm","t":0.873,"p":4.53},{"d":"2.5 mm","t":0.889,"p":3.97},{"d":"2.5 mm","t":0.906,"p":4.52},{"d":"2.5 mm","t":0.922,"p":3.96},{"d":"2.5 mm","t":0.939,"p":4.54},{"d":"2.5 mm","t":0.955,"p":3.96},{"d":"2.5 mm","t":0.971,"p":4.53},{"d":"2.5 mm","t":0.988,"p":3.97},{"d":"2.5 mm","t":1.0,"p":4.25}
          ]},
          "mark": {"type": "line", "strokeWidth": 1, "clip": true},
          "encoding": {
            "color": {
              "field": "d", "type": "nominal",
              "scale": {
                "domain": ["Average", "8.5 mm", "7 mm", "5.5 mm", "Max Pressure", "4 mm", "2.5 mm"],
                "range": ["#000000", "#000000", "#ff0000", "#0000ff", "#000000", "#808000", "#b4b4b4"]
              },
              "legend": {
                "title": null,
                "orient": "none",
                "legendX": 21,
                "legendY": 2,
                "direction": "horizontal",
                "columns": 4,
                "columnPadding": 1,
                "rowPadding": 2.5,
                "padding": 2,
                "strokeColor": "#000",
                "fillColor": "#fff",
                "symbolSize": 36,
                "labelOffset": 15,
                "encode": {
                  "symbols": {
                    "update": {
                      "shape": {"signal": "datum.value=='Average'||datum.value=='Max Pressure' ? 'stroke' : 'square'"},
                      "size": {"signal": "datum.value=='Average'||datum.value=='Max Pressure' ? 400 : 36"},
                      "x": {"signal": "datum.value=='Average'||datum.value=='Max Pressure' ? 10 : 9"},
                      "fill": {"signal": "datum.value=='8.5 mm' ? '#000000' : datum.value=='7 mm' ? '#ff0000' : datum.value=='5.5 mm' ? '#0000ff' : datum.value=='4 mm' ? '#808000' : datum.value=='2.5 mm' ? '#808080' : 'transparent'"},
                      "stroke": {"signal": "datum.value=='Average'||datum.value=='Max Pressure' ? '#000000' : 'transparent'"},
                      "strokeDash": {"signal": "datum.value=='Average' ? [4,3] : [1,0]"},
                      "strokeWidth": {"value": 1},
                      "opacity": {"value": 1}
                    }
                  }
                }
              }
            }
          }
        },
        {
          "data": {"values": [
            {"d":"8.5 mm","p":3.645},{"d":"7 mm","p":4.04},{"d":"5.5 mm","p":4.31},{"d":"4 mm","p":4.3},{"d":"2.5 mm","p":4.29}
          ]},
          "mark": {"type": "rule", "strokeWidth": 1, "strokeDash": [4, 3]},
          "encoding": {"x": null, "color": {"field": "d", "type": "nominal"}}
        },
        {
          "data": {"values": [{"t": -0.181, "p": 4.79, "label": "(b)"}]},
          "mark": {"type": "text", "align": "left", "baseline": "middle", "fontSize": 14, "font": "Liberation Serif, Times New Roman, serif", "color": "#000", "clip": false},
          "encoding": {"text": {"field": "label"}}
        }
      ]
    }
  ]
}
